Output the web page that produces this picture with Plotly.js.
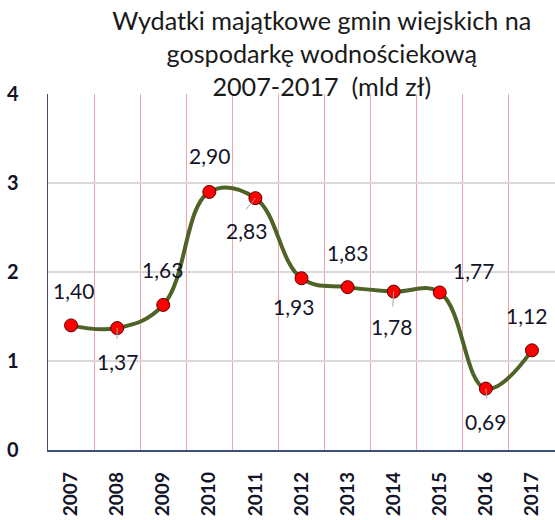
<!DOCTYPE html>
<html>
<head>
<meta charset="utf-8">
<script src="https://cdn.plot.ly/plotly-3.0.1.min.js"></script>
<style>html,body{margin:0;padding:0;background:#fff;}#chart{width:555px;height:520px;}</style>
</head>
<body>
<div id="chart"></div>
<script>
// Data
const years = ["2007","2008","2009","2010","2011","2012","2013","2014","2015","2016","2017"];
const values = [1.40, 1.37, 1.63, 2.90, 2.83, 1.93, 1.83, 1.78, 1.77, 0.69, 1.12];
const valueLabels = ["1,40","1,37","1,63","2,90","2,83","1,93","1,83","1,78","1,77","0,69","1,12"];
const titleLines = ["Wydatki majątkowe gmin wiejskich na", "gospodarkę wodnościekową", "2007-2017  (mld zł)"];
const yTicks = [0, 1, 2, 3, 4];

// Label placement (pixel offsets: dx right, dy down) - styling only
const labelOffsets = [[2,-35],[0,33],[-1,-35],[0,-36],[-9,32],[-8,28],[0,-35],[-2,35],[34,-22],[0,33],[-5,-35]];
// Leader lines (pixel offsets) for some labels
const leaders = {1:[0,12], 4:[-10,12], 7:[-1,16], 9:[1,11]};

const trace = {
  x: years,
  y: values,
  type: 'scatter',
  mode: 'lines+markers',
  line: {color: '#4F6228', width: 4, shape: 'spline', smoothing: 1.15},
  marker: {color: '#FF0000', size: 13, line: {color: '#5a0000', width: 1}},
  hoverinfo: 'skip',
  cliponaxis: false
};

const annotations = [];
years.forEach((yr, i) => {
  if (leaders[i]) {
    annotations.push({
      x: i, y: values[i], xref: 'x', yref: 'y', text: ' ',
      font: {size: 1}, borderpad: 0,
      showarrow: true, arrowhead: 0, arrowwidth: 1, arrowcolor: '#A6A6A6',
      ax: leaders[i][0], ay: leaders[i][1], standoff: 0
    });
  }
  annotations.push({
    x: i, y: values[i], xref: 'x', yref: 'y',
    text: valueLabels[i], showarrow: false,
    xshift: labelOffsets[i][0], yshift: -labelOffsets[i][1],
    font: {family: 'Lato, "Liberation Sans", sans-serif', size: 21, color: '#141428'}
  });
});

const layout = {
  width: 555, height: 520,
  margin: {l: 48, r: 0, t: 94, b: 70},
  paper_bgcolor: '#ffffff', plot_bgcolor: '#ffffff',
  showlegend: false,
  title: {
    text: titleLines.join('<br>'),
    font: {family: 'Lato, "Liberation Sans", sans-serif', size: 25.2, color: '#1a1a1a'},
    xref: 'paper', x: 0.54, xanchor: 'center',
    yref: 'container', y: 0.942, yanchor: 'top'
  },
  xaxis: {
    type: 'category',
    range: [-0.5, 10.5],
    tickson: 'boundaries',
    showgrid: true, gridcolor: '#F2A5A8', gridwidth: 1,
    showline: true, linecolor: '#3F4F7F', linewidth: 1.5,
    ticks: '', tickangle: -90,
    ticklabelstandoff: 13,
    tickfont: {family: 'Lato, "Liberation Sans", sans-serif', size: 19, color: '#141428', weight: 'bold'},
    fixedrange: true
  },
  yaxis: {
    range: [0, 4],
    tickvals: yTicks,
    ticktext: yTicks.map(String),
    showgrid: true, gridcolor: '#D9D9D9', gridwidth: 1.5,
    zeroline: false,
    showline: true, linecolor: '#3F4F7F', linewidth: 1.5,
    ticks: '',
    ticklabelstandoff: 24,
    tickfont: {family: 'Lato, "Liberation Sans", sans-serif', size: 20, color: '#141428', weight: 'bold'},
    fixedrange: true
  },
  annotations: annotations
};

Plotly.newPlot('chart', [trace], layout, {displayModeBar: false, staticPlot: true});
</script>
</body>
</html>
